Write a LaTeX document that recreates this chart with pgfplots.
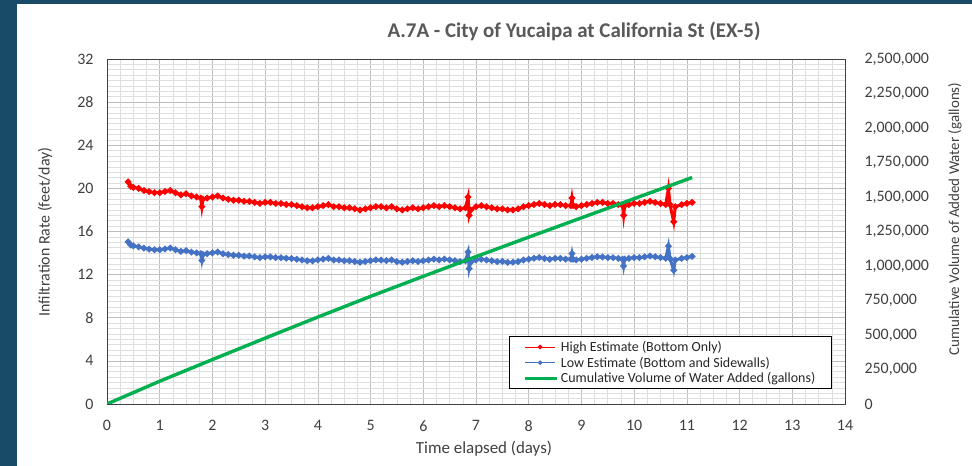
\documentclass[border=0pt]{standalone}
\usepackage{pgfplots}
\pgfplotsset{compat=1.18}
\usepackage{pgfplotstable}
\usepackage{fontspec}
\setmainfont{Carlito}
\definecolor{frame}{HTML}{184B68}
\definecolor{xred}{HTML}{FF0000}
\definecolor{xblue}{HTML}{4472C4}
\definecolor{xgreen}{HTML}{00B050}
\definecolor{txt}{HTML}{404040}
\definecolor{ttl}{HTML}{595959}
\definecolor{majgrid}{HTML}{BEBEBE}
\definecolor{mingrid}{HTML}{DEDEDE}

\pgfplotstableread{
t     high   low
0.40  20.6   15.04
0.45  20.2   14.75
0.50  20.1   14.67
0.60  20.0   14.58
0.70  19.8   14.45
0.80  19.7   14.36
0.90  19.6   14.31
1.00  19.6   14.30
1.10  19.7   14.38
1.20  19.8   14.47
1.30  19.6   14.31
1.40  19.4   14.16
1.50  19.5   14.22
1.60  19.3   14.09
1.70  19.2   14.02
1.78  19.1   13.94
1.80  18.3   13.33
1.82  19.0   13.87
1.90  19.1   13.95
2.00  19.2   14.02
2.10  19.3   14.10
2.20  19.1   13.94
2.30  19.0   13.86
2.40  18.9   13.80
2.50  18.9   13.79
2.60  18.8   13.72
2.70  18.8   13.73
2.80  18.7   13.65
2.90  18.6   13.57
3.00  18.7   13.65
3.10  18.7   13.64
3.20  18.6   13.58
3.30  18.6   13.57
3.40  18.5   13.51
3.50  18.5   13.50
3.60  18.4   13.43
3.70  18.3   13.36
3.80  18.2   13.29
3.90  18.2   13.28
4.00  18.3   13.36
4.10  18.4   13.43
4.20  18.5   13.50
4.30  18.3   13.36
4.40  18.3   13.35
4.50  18.2   13.29
4.60  18.2   13.28
4.70  18.1   13.21
4.80  18.0   13.14
4.90  18.1   13.22
5.00  18.2   13.29
5.10  18.3   13.36
5.20  18.3   13.35
5.30  18.2   13.29
5.40  18.3   13.36
5.50  18.1   13.21
5.60  18.0   13.14
5.70  18.1   13.21
5.80  18.2   13.29
5.90  18.1   13.22
6.00  18.2   13.29
6.10  18.3   13.36
6.20  18.4   13.43
6.30  18.3   13.36
6.40  18.4   13.44
6.50  18.3   13.36
6.60  18.2   13.29
6.70  18.1   13.21
6.80  18.2   13.29
6.85  19.2   14.10
6.87  17.5   12.55
6.90  18.0   13.14
7.00  18.3   13.36
7.10  18.4   13.43
7.20  18.3   13.36
7.30  18.2   13.29
7.40  18.1   13.21
7.50  18.1   13.22
7.60  18.0   13.14
7.70  18.0   13.15
7.80  18.1   13.21
7.90  18.3   13.36
8.00  18.4   13.43
8.10  18.5   13.51
8.20  18.6   13.58
8.30  18.5   13.50
8.40  18.4   13.43
8.50  18.5   13.51
8.60  18.5   13.50
8.70  18.4   13.43
8.80  18.4   13.44
8.82  19.1   13.96
8.84  18.4   13.43
8.90  18.3   13.36
9.00  18.4   13.43
9.10  18.5   13.51
9.20  18.6   13.58
9.30  18.7   13.65
9.40  18.7   13.64
9.50  18.6   13.58
9.60  18.6   13.57
9.70  18.5   13.51
9.78  18.4   13.43
9.80  17.5   12.80
9.82  18.4   13.44
9.90  18.5   13.51
10.00 18.6   13.58
10.10 18.6   13.57
10.20 18.7   13.65
10.30 18.8   13.72
10.40 18.7   13.65
10.50 18.6   13.58
10.60 18.5   13.51
10.65 20.0   14.65
10.68 18.5   13.50
10.75 16.9   12.40
10.78 18.3   13.36
10.90 18.5   13.51
11.00 18.6   13.58
11.10 18.7   13.70
}\ratedata

\pgfplotstableread{
t      vol
0.0    0
1.0    165000
2.0    322000
3.0    477000
4.0    630000
5.0    780000
6.0    925000
7.0    1068000
8.0    1209000
9.0    1349000
10.0   1488000
11.1   1641000
}\voldata

\begin{document}
\begin{tikzpicture}[x=1bp,y=1bp]
\fill[frame] (0,0) rectangle (972,466);
\fill[white] (17,0) rectangle (972,462);
\begin{axis}[
  at={(107bp,62bp)}, anchor=south west, scale only axis,
  width=738bp, height=345bp,
  xmin=0, xmax=14, ymin=0, ymax=32,
  xtick={0,1,...,14}, ytick={0,4,...,32},
  minor x tick num=3, minor y tick num=7,
  grid=both,
  major grid style={draw=majgrid, line width=0.7bp},
  minor grid style={draw=mingrid, line width=0.6bp},
  axis line style={draw=txt, line width=0.9bp},
  major tick length=0pt, minor tick length=0pt,
  ticklabel style={font=\fontsize{16}{18}\selectfont, text=txt},
  xticklabel style={yshift=-13bp},
  yticklabel style={xshift=-10bp},
  /pgf/number format/assume math mode=true,
]
\addplot[xred, line width=3bp, mark=*, mark size=1.5bp] table[x=t, y=high] {\ratedata};
\addplot[xblue, line width=3bp, mark=*, mark size=1.5bp] table[x=t, y=low] {\ratedata};
\end{axis}
\begin{axis}[
  at={(107bp,62bp)}, anchor=south west, scale only axis,
  width=738bp, height=345bp,
  xmin=0, xmax=14, ymin=0, ymax=2500000,
  axis y line*=right, axis x line=none,
  ytick={0,250000,500000,750000,1000000,1250000,1500000,1750000,2000000,2250000,2500000},
  scaled y ticks=false,
  yticklabel style={font=\fontsize{16}{18}\selectfont, text=txt, xshift=16bp,
    /pgf/number format/fixed, /pgf/number format/precision=0,
    /pgf/number format/1000 sep={,}},
  /pgf/number format/assume math mode=true,
  major tick length=0pt,
  axis line style={draw=txt, line width=0.9bp},
  legend style={at={(0.982,0.043)}, anchor=south east, draw=black, line width=0.9bp,
    fill=white, font=\fontsize{14}{16}\selectfont, text=black!85,
    inner xsep=14bp, inner ysep=2.5bp, row sep=0bp},
  legend cell align=left,
]
\addlegendimage{legend image code/.code={\draw[xred, line width=0.7bp] (0bp,0bp) -- (30bp,0bp); \fill[xred] (15bp,0bp) circle (1.8bp);}}
\addlegendentry{High Estimate (Bottom Only)}
\addlegendimage{legend image code/.code={\draw[xblue, line width=0.7bp] (0bp,0bp) -- (30bp,0bp); \fill[xblue] (15bp,0bp) circle (1.8bp);}}
\addlegendentry{Low Estimate (Bottom and Sidewalls)}
\addplot[xgreen, line width=3.4bp, legend image code/.code={\draw[xgreen, line width=3.5bp] (0bp,0bp) -- (32bp,0bp);}] table[x=t, y=vol] {\voldata};
\addlegendentry{Cumulative Volume of Water Added (gallons)}
\end{axis}
\node[font=\bfseries\fontsize{21}{24}\selectfont, text=ttl] at (574,435) {A.7A - City of Yucaipa at California St (EX-5)};
\node[rotate=90, font=\fontsize{16}{18}\selectfont, text=txt] at (45,234) {Infiltration Rate (feet/day)};
\node[rotate=90, font=\fontsize{15}{18}\selectfont, text=txt] at (955,247) {Cumulative Volume of Added Water (gallons)};
\node[font=\fontsize{17}{20}\selectfont, text=txt] at (484,17) {Time elapsed (days)};
\pgfresetboundingbox
\path[use as bounding box] (0,0) rectangle (972,466);
\end{tikzpicture}
\end{document}
